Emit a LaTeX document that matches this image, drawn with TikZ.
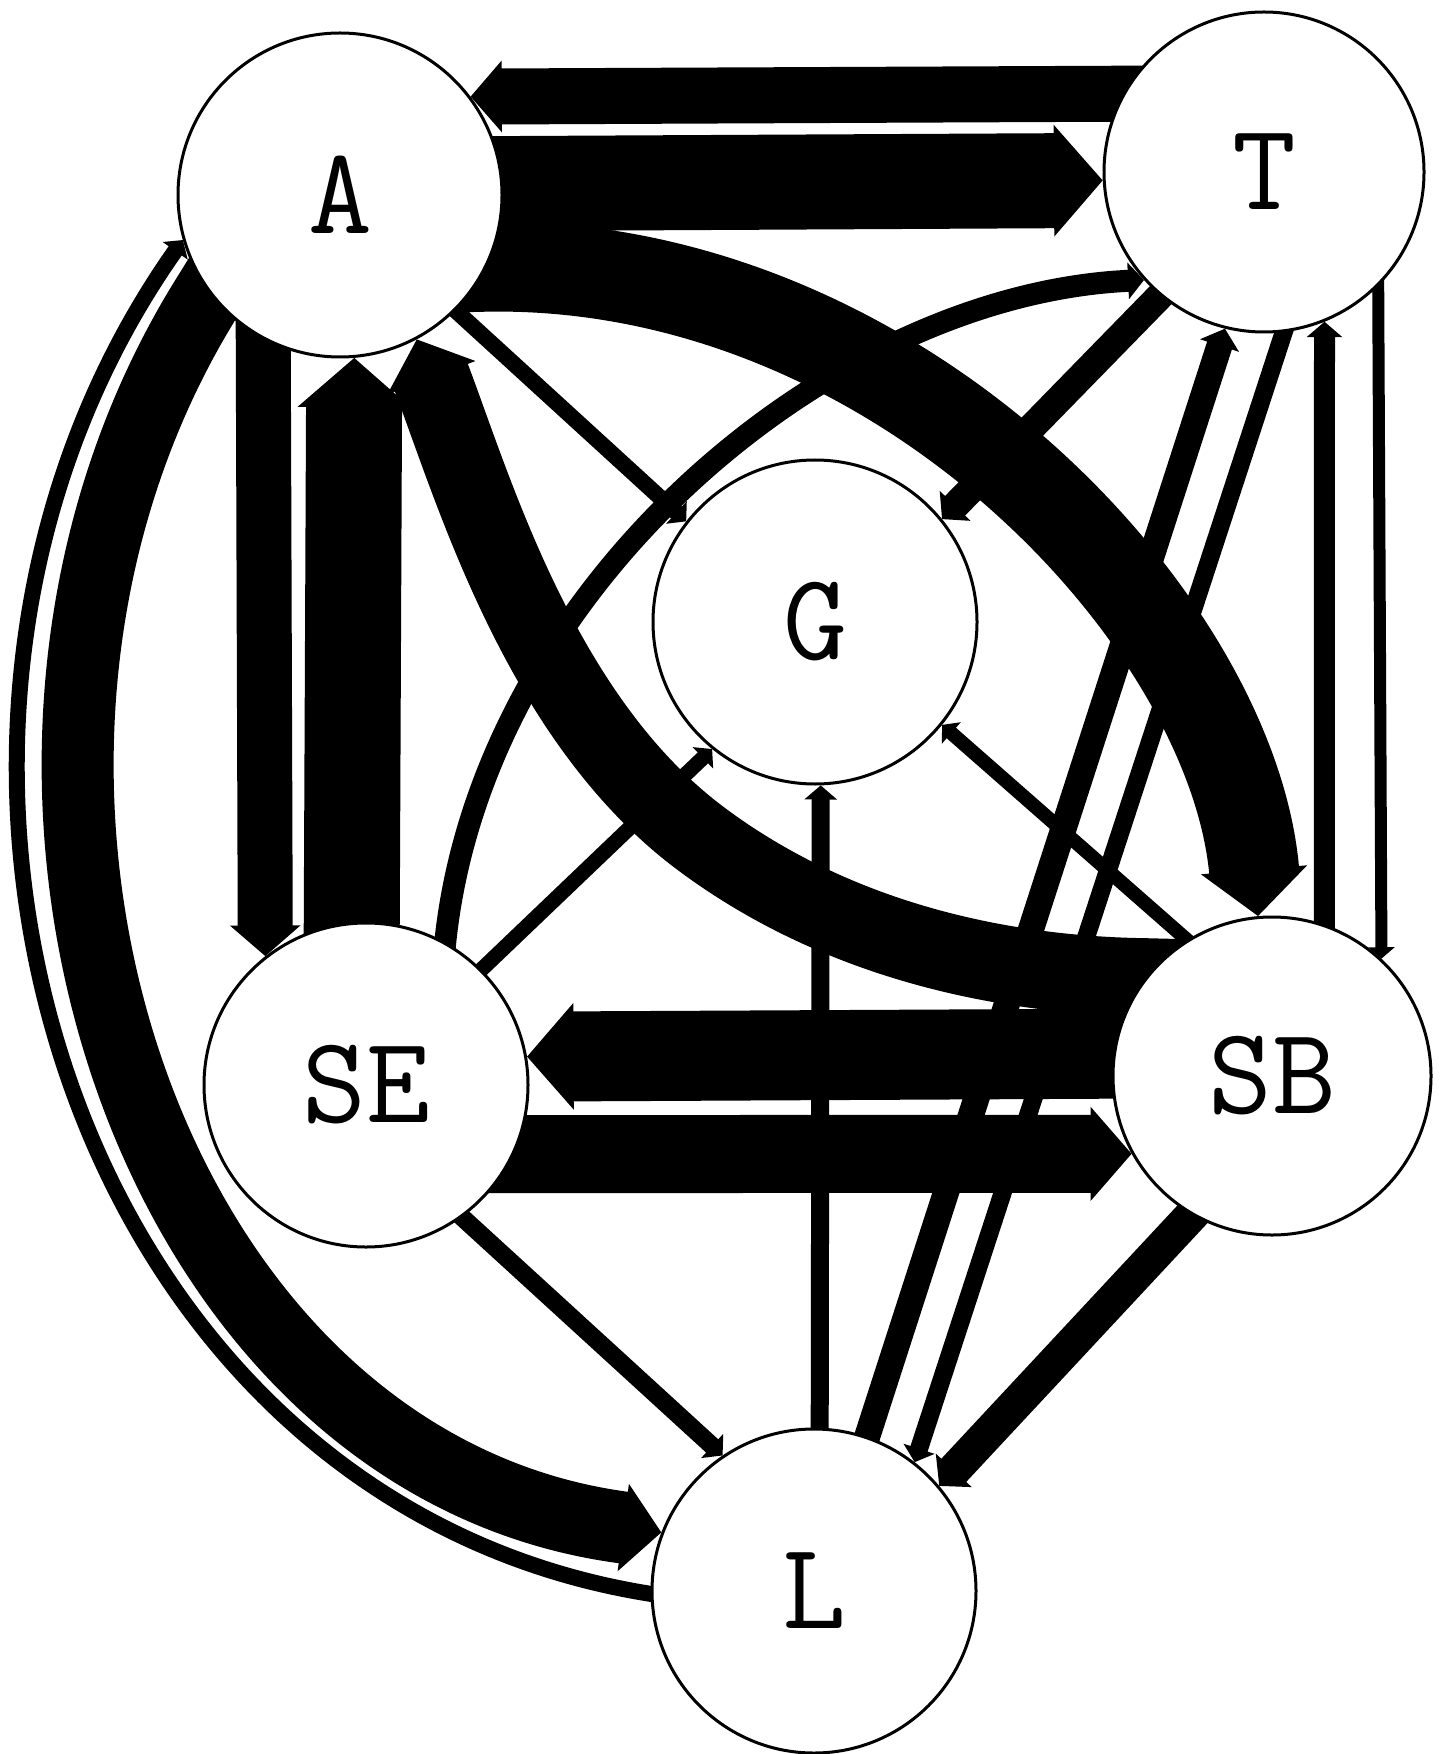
\documentclass[tikz,border=0pt]{standalone}
\usepackage{fontspec}
\usetikzlibrary{arrows.meta,calc}
\pgfdeclarelayer{bglayer}
\pgfdeclarelayer{flowlayer}
\pgfsetlayers{bglayer,flowlayer,main}
\begin{document}
\begin{tikzpicture}[x=0.5pt,y=-0.5pt,
  state/.style={circle,draw=black,line width=1.5pt,fill=white,inner sep=0pt,
    minimum size=#1,font=\fontsize{62}{64}\selectfont\ttfamily\addfontfeatures{FakeBold=1.2}},
  flowc/.style={draw=black,line width=#1*0.5pt,line cap=butt,line join=round,
    -{Triangle[width=7pt 1,length=3pt 0.45]}},
  flow/.style={flowc=#1,shorten <=-20pt}]
\useasboundingbox (0,0) rectangle (1445,1754);
\begin{pgfonlayer}{bglayer}
\fill[white] (0,0) rectangle (1445,1754);
\end{pgfonlayer}

% states
\node[state=162pt] (A)  at (340,195)  {A};
\node[state=160pt] (T)  at (1264,172) {T};
\node[state=162pt] (G)  at (815,622)  {G};
\node[state=162pt] (SE) at (366,1085) {SE};
\node[state=159pt] (SB) at (1272,1076) {SB};
\node[state=162pt] (L)  at (814,1591) {L};

\begin{pgfonlayer}{flowlayer}
% A <-> T
\draw[flow=56] (T.151.6) -- (A.37.7);
\draw[flow=95] (A.4.6) -- (T.183.6);
% A <-> SB (big curves)
\draw[flowc=90] ($(A.-26)+(-40,1)$) -- (A.-26)
   .. controls (900,260) and (1233,622) .. (SB.95);
\draw[flowc=78] ($(SB.142)+(40,1)$) -- (SB.142)
   .. controls (987,975) and (828,934) .. (700,838)
   .. controls (540,718) and (474,490) .. (A.-62);
% A <-> SE
\draw[flow=55] (A.-118.8) -- (SE.128);
\draw[flow=96] (SE.95) -- (A.-85.75);
% A <-> L (outer curves)
\draw[flowc=72] ($(A.-143)+(21,-34)$) -- (A.-143)
   .. controls (-85,760) and (140,1465) .. (L.159);
\draw[flowc=16] ($(L.181)+(40,6)$) -- (L.181)
   .. controls (60,1500) and (-163,730) .. (A.-164);
% into G
\draw[flow=16] (A.-45) -- (G.142);
\draw[flow=28] (T.-130) -- (G.39.6);
\draw[flow=15] (SE.45) -- (G.-129);
\draw[flow=14] (SB.122) -- (G.-39.5);
\draw[flow=18] (L.88.6) -- (G.-88.6);
% SE -> T curve
\draw[flowc=22] ($(SE.61)+(-4,40)$) -- (SE.61)
   .. controls (482,590) and (827,295) .. (T.-138);
% into L
\draw[flow=18] (SE.-54) -- (L.124.5);
\draw[flow=34] (SB.-120.5) -- (L.40.2);
% L <-> T
\draw[flow=26] (L.71.1) -- (T.-104.4);
\draw[flow=18] (T.-83.4) -- (L.52.6);
% SB <-> T
\draw[flow=21] (SB.71.3) -- (T.-68.7);
\draw[flow=12] (T.-45) -- (SB.47.2);
% SB <-> SE
\draw[flow=90] (SB.172.4) -- (SE.10.7);
\draw[flow=78] (SE.-25.2) -- (SB.209.4);
\end{pgfonlayer}
\end{tikzpicture}
\end{document}
